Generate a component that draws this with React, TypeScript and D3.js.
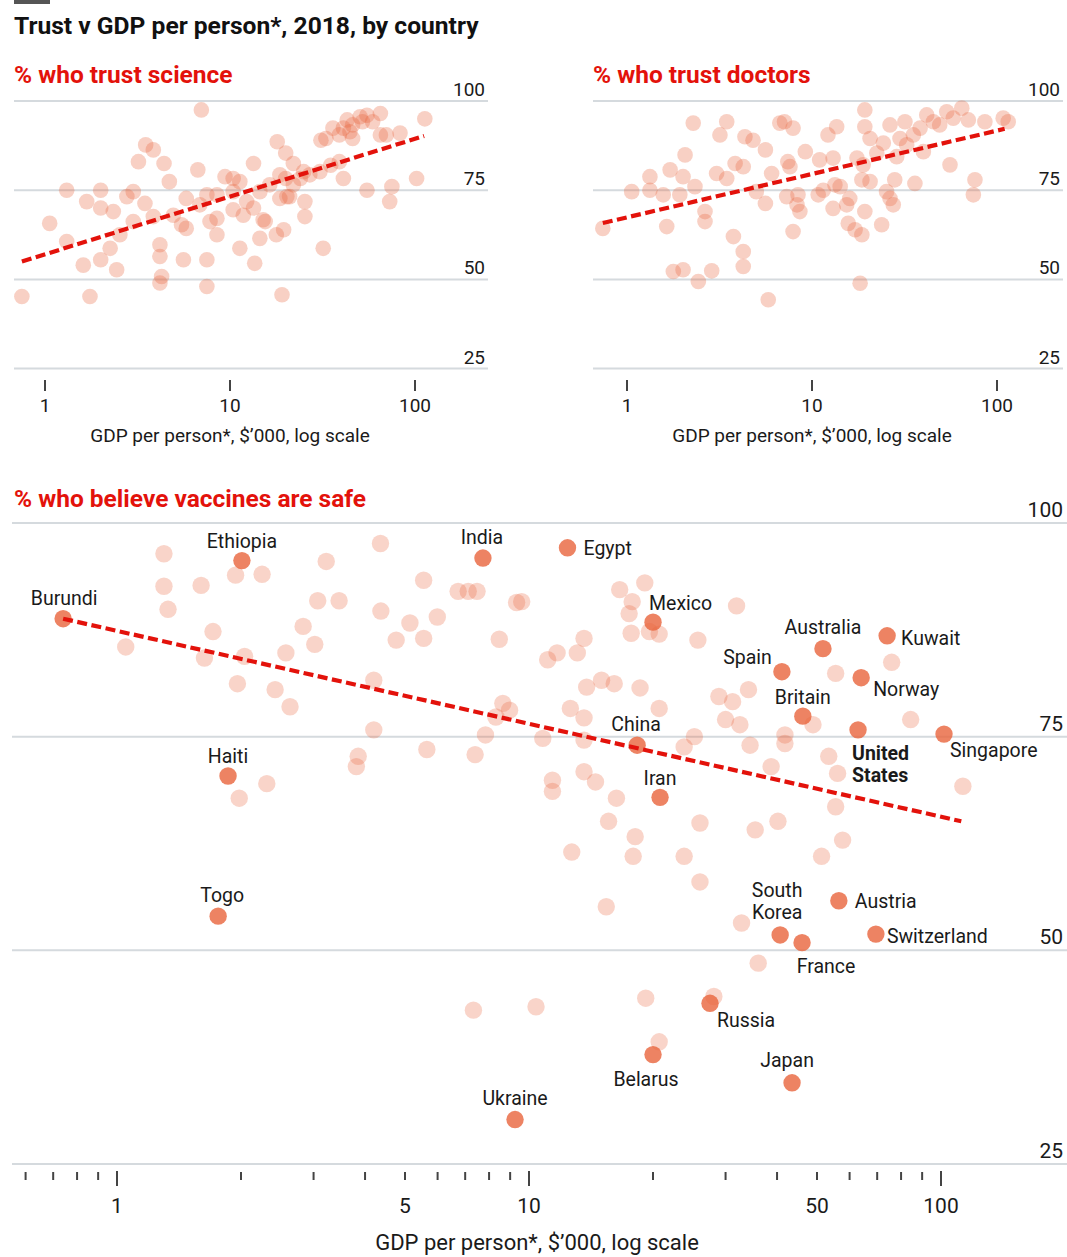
import React, { useEffect } from 'react';
import * as d3 from 'd3';

const W = 1067;
const H = 1257;

// ---------- DATA ----------
const scienceGdp = [7.0, 113, 43, 50.5, 55, 65, 46, 41, 36, 39, 44.5, 52, 33, 59, 70, 83, 65, 46, 31, 18, 20, 13.4, 6.7, 3.5, 3.85, 3.2, 4.4, 4.7, 9.4, 10.4, 11.3, 18.6, 20, 24, 27, 30.6, 35, 39, 41, 55, 75, 73, 102, 1.31, 2.0, 1.68, 2.0, 2.34, 2.77, 3.0, 3.47, 3.85, 1.06, 1.31, 1.61, 2.0, 2.25, 2.44, 4.18, 4.18, 4.27, 4.18, 5.6, 5.47, 5.8, 7.5, 7.5, 8.5, 7.8, 7.5, 10.4, 11.8, 11.3, 13.6, 15.1, 14.5, 17.8, 19.5, 18.6, 21, 25.4, 25.4, 31.9, 19.1, 1.75, 0.75, 2.54, 3.0, 4.94, 5.8, 8.5, 6.87, 12.3, 13.4, 14.5, 16.4, 22, 22, 25, 10.4, 8.5, 15.5, 20.3];
const scienceVal = [97.5, 95, 94.7, 95.6, 96, 96.5, 93.3, 92.4, 92.4, 90.5, 91.4, 94.2, 89.5, 94.2, 90.5, 91, 90.5, 89.5, 89, 88.6, 85.4, 82.5, 80.7, 87.7, 86.3, 83, 82.5, 77.4, 78.8, 78.3, 77.4, 79.3, 78.3, 78.3, 79.3, 80.2, 82, 83, 78.3, 75, 76, 71.8, 78.3, 75, 75, 71.8, 70, 69, 73.2, 74.6, 71.3, 67.6, 65.7, 60.6, 54, 55.5, 58.7, 52.7, 59.7, 56.4, 50.8, 49, 55.5, 65.3, 72.7, 55.5, 48, 62.5, 66.2, 73.7, 69.5, 68, 58.7, 54.5, 66.7, 61.5, 62.5, 63.9, 72.7, 73.2, 71.8, 67.6, 58.7, 45.7, 45.2, 45.2, 62.5, 66.2, 68, 64.3, 67.1, 70.9, 71.8, 70, 74.6, 76.5, 76.5, 82.5, 80.2, 74.6, 73.7, 66.2, 73.2];

const doctorsGdp = [19.3, 2.28, 3.46, 3.18, 6.7, 7.1, 7.9, 4.34, 4.8, 5.6, 13.6, 12.2, 19.3, 20.6, 26.4, 31.8, 41.7, 53.5, 64.5, 45.3, 58, 49, 38.4, 35.3, 70, 86, 108, 115, 29.9, 32.5, 24.3, 22.4, 28.7, 40, 55.7, 76, 74.5, 36, 28, 25.3, 26.4, 27.5, 23.8, 19.3, 20.6, 18.6, 17.5, 18.9, 13, 11, 9.2, 7.4, 7.6, 6.05, 13.3, 14.2, 11.5, 10.8, 16, 15.4, 13, 8.6, 8.3, 7.3, 8.4, 5.6, 7.9, 15.7, 17.1, 18.6, 3.84, 4.25, 3.05, 3.46, 2.06, 1.71, 2.01, 2.33, 1.93, 1.33, 1.33, 1.06, 0.74, 1.64, 2.64, 2.64, 3.76, 4.25, 4.25, 1.78, 2.01, 2.87, 2.43, 18.2, 5.8, 5.0, 1.57];
const doctorsVal = [97.5, 93.8, 94.2, 90.5, 93.8, 94.2, 92.4, 90, 89, 86.3, 92.8, 90.5, 92.8, 89.5, 93.3, 94.2, 96.1, 97, 98, 94.2, 95.2, 93.3, 92.4, 90.5, 94.7, 94.2, 95.2, 94.2, 89.5, 87.7, 88.2, 85.4, 84.4, 85.8, 82.1, 77.9, 73.7, 76.9, 77.9, 74.6, 72.7, 70.9, 65.3, 69, 77.4, 77.9, 84, 82.1, 84, 83.5, 85.8, 83, 81.6, 79.7, 76.5, 76, 75, 73.7, 72.7, 70.9, 69.9, 69, 70.9, 73.2, 73.7, 71.3, 63.4, 65.7, 63.9, 62.5, 82.5, 81.6, 79.7, 78.3, 84.9, 80.7, 78.8, 76, 73.7, 78.8, 75, 74.6, 64.3, 64.8, 69, 66.2, 62, 57.8, 53.6, 52.2, 52.7, 52.4, 49.4, 48.9, 44.3, 74.6, 73.7];

const vaccineGdp = [1.30, 1.30, 1.33, 1.60, 1.94, 2.25, 1.05, 1.71, 1.63, 1.96, 2.42, 2.63, 2.04, 2.57, 2.83, 3.02, 3.07, 3.46, 3.22, 4.36, 4.37, 5.14, 5.55, 5.55, 4.76, 5.99, 6.73, 7.12, 7.48, 9.33, 8.47, 4.20, 4.20, 3.85, 3.81, 5.65, 7.40, 7.84, 8.64, 8.97, 8.31,
  16.6, 19.1, 17.8, 17.5, 17.7, 20.7, 19.6, 31.9, 25.7, 13.6, 13.1, 11.7, 11.1, 9.6, 13.8, 15.0, 16.1, 18.6, 12.6, 13.6, 20.7, 28.9, 31.2, 34.1, 30.0, 32.5, 75.9, 55.5, 48.9, 41.8, 84.4, 10.8, 13.6, 23.8, 25.2, 34.4, 41.8, 53.4, 56.1,
  11.4, 11.4, 13.6, 14.5, 16.3, 15.6, 18.1, 12.7, 17.9, 23.8, 26.0, 26.0, 15.4, 35.4, 40.2, 55.5, 57.7, 51.3, 113, 38.7, 32.8, 36.0, 19.2, 28.1, 10.4, 20.7, 2.31, 1.98, 7.33];
const vaccineVal = [96.4, 92.6, 89.9, 92.7, 93.9, 94.0, 85.5, 87.3, 84.2, 81.2, 80.5, 78.5, 84.4, 84.8, 87.9, 85.8, 90.9, 90.9, 95.5, 97.6, 89.7, 88.3, 86.5, 93.3, 86.3, 89.0, 92.0, 92.0, 92.0, 90.7, 86.4, 75.8, 81.6, 72.7, 71.5, 73.5, 72.9, 75.2, 78.9, 78.1, 77.3,
  92.2, 93.0, 90.8, 89.4, 87.1, 87.0, 87.3, 90.3, 86.3, 86.5, 84.8, 84.8, 84.0, 90.8, 80.8, 81.6, 81.2, 80.7, 78.3, 77.2, 78.3, 79.7, 79.1, 80.5, 77.0, 76.4, 83.7, 82.4, 76.4, 75.2, 77.0, 74.8, 74.6, 73.8, 75.0, 74.0, 74.2, 72.7, 70.7,
  69.9, 68.6, 70.9, 69.7, 67.8, 65.1, 63.3, 61.5, 61.0, 61.0, 64.9, 58.0, 55.1, 64.1, 65.1, 66.8, 62.9, 61.0, 69.2, 71.5, 53.2, 48.5, 44.4, 44.6, 43.4, 39.3, 69.5, 67.8, 43.0];

const labeledNames = ['Burundi', 'Ethiopia', 'India', 'Egypt', 'Mexico', 'Australia', 'Kuwait', 'Spain', 'Norway', 'Britain', 'China', 'United States', 'Singapore', 'Haiti', 'Iran', 'Togo', 'South Korea', 'Austria', 'Switzerland', 'France', 'Russia', 'Belarus', 'Japan', 'Ukraine'];
const labeledGdp = [0.74, 2.01, 7.73, 12.4, 20.0, 51.7, 74, 41.1, 64, 46.2, 18.3, 62.9, 101.7, 1.86, 20.8, 1.76, 40.7, 56.5, 69.5, 46, 27.5, 20, 43.5, 9.25];
const labeledVal = [88.8, 95.6, 95.9, 97.1, 88.4, 85.3, 86.8, 82.6, 81.9, 77.4, 74.0, 75.8, 75.3, 70.4, 67.9, 54.0, 51.8, 55.8, 51.9, 50.9, 43.8, 37.8, 34.5, 30.2];

const trendScienceGdp = [0.75, 112];
const trendScienceVal = [55.0, 90.2];
const trendDoctorsGdp = [0.74, 110];
const trendDoctorsVal = [65.8, 92.2];
const trendVaccineGdp = [0.74, 112];
const trendVaccineVal = [88.8, 65.1];

const yTicks = [25, 50, 75, 100];
const topXTicks = [1, 10, 100];
const bottomMinorTicks = [0.6, 0.7, 0.8, 0.9, 2, 3, 4, 5, 6, 7, 8, 9, 20, 30, 40, 50, 60, 70, 80, 90];
const bottomMajorTicks = [1, 10, 100];
const bottomTickLabels = [1, 5, 10, 50, 100];

const TITLE = 'Trust v GDP per person*, 2018, by country';
const SUB_SCIENCE = '% who trust science';
const SUB_DOCTORS = '% who trust doctors';
const SUB_VACCINES = '% who believe vaccines are safe';
const X_TITLE = 'GDP per person*, $\u2019000, log scale';

// ---------- STYLE (label placement relative to point) ----------
const labelPlacement: Record<string, { dx: number; dy: number; anchor: string; bold?: boolean }> = {
  Burundi: { dx: 1, dy: -14, anchor: 'middle' },
  Ethiopia: { dx: 0, dy: -13, anchor: 'middle' },
  India: { dx: -1, dy: -14, anchor: 'middle' },
  Egypt: { dx: 16, dy: 7, anchor: 'start' },
  Mexico: { dx: -4, dy: -12, anchor: 'start' },
  Australia: { dx: 0, dy: -15, anchor: 'middle' },
  Kuwait: { dx: 14, dy: 9, anchor: 'start' },
  Spain: { dx: -10, dy: -8, anchor: 'end' },
  Norway: { dx: 12, dy: 18, anchor: 'start' },
  Britain: { dx: 0, dy: -12, anchor: 'middle' },
  China: { dx: -1, dy: -14, anchor: 'middle' },
  'United States': { dx: -6, dy: 30, anchor: 'start', bold: true },
  Singapore: { dx: 6, dy: 23, anchor: 'start' },
  Haiti: { dx: 0, dy: -13, anchor: 'middle' },
  Iran: { dx: 0, dy: -12, anchor: 'middle' },
  Togo: { dx: 4, dy: -14, anchor: 'middle' },
  'South Korea': { dx: -3, dy: -38, anchor: 'middle' },
  Austria: { dx: 16, dy: 7, anchor: 'start' },
  Switzerland: { dx: 11, dy: 9, anchor: 'start' },
  France: { dx: 24, dy: 30, anchor: 'middle' },
  Russia: { dx: 36, dy: 24, anchor: 'middle' },
  Belarus: { dx: -7, dy: 31, anchor: 'middle' },
  Japan: { dx: -5, dy: -16, anchor: 'middle' },
  Ukraine: { dx: 0, dy: -15, anchor: 'middle' },
};

const FONT = "Roboto, 'Open Sans', sans-serif";
const RED = '#e3120b';
const DOT = '#e8643c';
const GRID = '#d5dade';
const INK = '#1a1a1a';

type PanelProps = {
  subtitle: string;
  gdp: number[];
  val: number[];
  tGdp: number[];
  tVal: number[];
  x0: number;
  x1: number;
  xOne: number;
};

function TopPanel({ subtitle, gdp, val, tGdp, tVal, x0, x1, xOne }: PanelProps) {
  const x = d3.scaleLog().domain([1, 100]).range([xOne, xOne + 370]);
  const y = d3.scaleLinear().domain([25, 100]).range([368.6, 101]);
  const line = d3.line<[number, number]>().x((d) => x(d[0])).y((d) => y(d[1]));
  const trend: [number, number][] = tGdp.map((g, i) => [g, tVal[i]]);
  return (
    <g>
      <text x={x0} y={83} fill={RED} fontSize={24.5} fontWeight={700} fontFamily={FONT}>{subtitle}</text>
      {yTicks.map((t) => (
        <g key={t}>
          <line x1={x0} x2={x1} y1={y(t)} y2={y(t)} stroke={GRID} strokeWidth={2} />
          <text x={x1 - 3} y={y(t) - 5} textAnchor="end" fontSize={19} fontFamily={FONT} fill={INK}>{t}</text>
        </g>
      ))}
      {gdp.map((g, i) => (
        <circle key={i} cx={x(g)} cy={y(val[i])} r={7.8} fill={DOT} fillOpacity={0.3} />
      ))}
      <path d={line(trend) || ''} fill="none" stroke={RED} strokeWidth={4.2} strokeDasharray="10 4.5" />
      {topXTicks.map((t) => (
        <g key={t}>
          <line x1={x(t)} x2={x(t)} y1={380} y2={391} stroke="#444" strokeWidth={2} />
          <text x={x(t)} y={412} textAnchor="middle" fontSize={19} fontFamily={FONT} fill={INK}>{t}</text>
        </g>
      ))}
      <text x={x(10)} y={442} textAnchor="middle" fontSize={19} fontFamily={FONT} fill={INK}>{X_TITLE}</text>
    </g>
  );
}

function BottomPanel() {
  const x = d3.scaleLog().domain([1, 100]).range([117, 941]);
  const y = d3.scaleLinear().domain([25, 100]).range([1164, 523]);
  const line = d3.line<[number, number]>().x((d) => x(d[0])).y((d) => y(d[1]));
  const trend: [number, number][] = trendVaccineGdp.map((g, i) => [g, trendVaccineVal[i]]);
  return (
    <g>
      <text x={14} y={507} fill={RED} fontSize={24.5} fontWeight={700} fontFamily={FONT}>{SUB_VACCINES}</text>
      {yTicks.map((t) => (
        <g key={t}>
          <line x1={12} x2={W} y1={y(t)} y2={y(t)} stroke={GRID} strokeWidth={2} />
          <text x={1063} y={y(t) - 6} textAnchor="end" fontSize={21} fontFamily={FONT} fill={INK}>{t}</text>
        </g>
      ))}
      {vaccineGdp.map((g, i) => (
        <circle key={i} cx={x(g)} cy={y(vaccineVal[i])} r={8.7} fill={DOT} fillOpacity={0.28} />
      ))}
      {labeledGdp.map((g, i) => (
        <circle key={'l' + i} cx={x(g)} cy={y(labeledVal[i])} r={8.7} fill={DOT} fillOpacity={0.8} />
      ))}
      <path d={line(trend) || ''} fill="none" stroke={RED} strokeWidth={4.2} strokeDasharray="10 4.5" />
      {labeledNames.map((name, i) => {
        const p = labelPlacement[name];
        const cx = x(labeledGdp[i]) + p.dx;
        const cy = y(labeledVal[i]) + p.dy;
        const parts = name === 'United States' || name === 'South Korea' ? name.split(' ') : [name];
        return (
          <text key={name} x={cx} y={cy} textAnchor={p.anchor as any} fontSize={19.5} fontFamily={FONT}
            fontWeight={p.bold ? 700 : 400} fill={INK}>
            {parts.map((s, k) => (
              <tspan key={k} x={cx} dy={k === 0 ? 0 : 22.5}>{s}</tspan>
            ))}
          </text>
        );
      })}
      {bottomMinorTicks.map((t) => (
        <line key={'m' + t} x1={x(t)} x2={x(t)} y1={1172} y2={1180} stroke="#444" strokeWidth={2} />
      ))}
      {bottomMajorTicks.map((t) => (
        <line key={'M' + t} x1={x(t)} x2={x(t)} y1={1171} y2={1186} stroke="#444" strokeWidth={2} />
      ))}
      {bottomTickLabels.map((t) => (
        <text key={'t' + t} x={x(t)} y={1213} textAnchor="middle" fontSize={21} fontFamily={FONT} fill={INK}>{t}</text>
      ))}
      <text x={537} y={1250} textAnchor="middle" fontSize={22} fontFamily={FONT} fill={INK}>{X_TITLE}</text>
    </g>
  );
}

export default function App() {
  useEffect(() => {
    document.body.style.margin = '0';
  }, []);
  return (
    <svg width={W} height={H} viewBox={`0 0 ${W} ${H}`} style={{ display: 'block', background: '#fff' }}>
      <rect x={0} y={0} width={W} height={H} fill="#fff" />
      <rect x={14} y={0} width={36} height={4} fill="#555" />
      <text x={14} y={34} fontSize={24.6} fontWeight={700} fontFamily={FONT} fill="#111">{TITLE}</text>
      <TopPanel subtitle={SUB_SCIENCE} gdp={scienceGdp} val={scienceVal} tGdp={trendScienceGdp} tVal={trendScienceVal}
        x0={14} x1={488} xOne={45} />
      <TopPanel subtitle={SUB_DOCTORS} gdp={doctorsGdp} val={doctorsVal} tGdp={trendDoctorsGdp} tVal={trendDoctorsVal}
        x0={593} x1={1063} xOne={627} />
      <BottomPanel />
    </svg>
  );
}
